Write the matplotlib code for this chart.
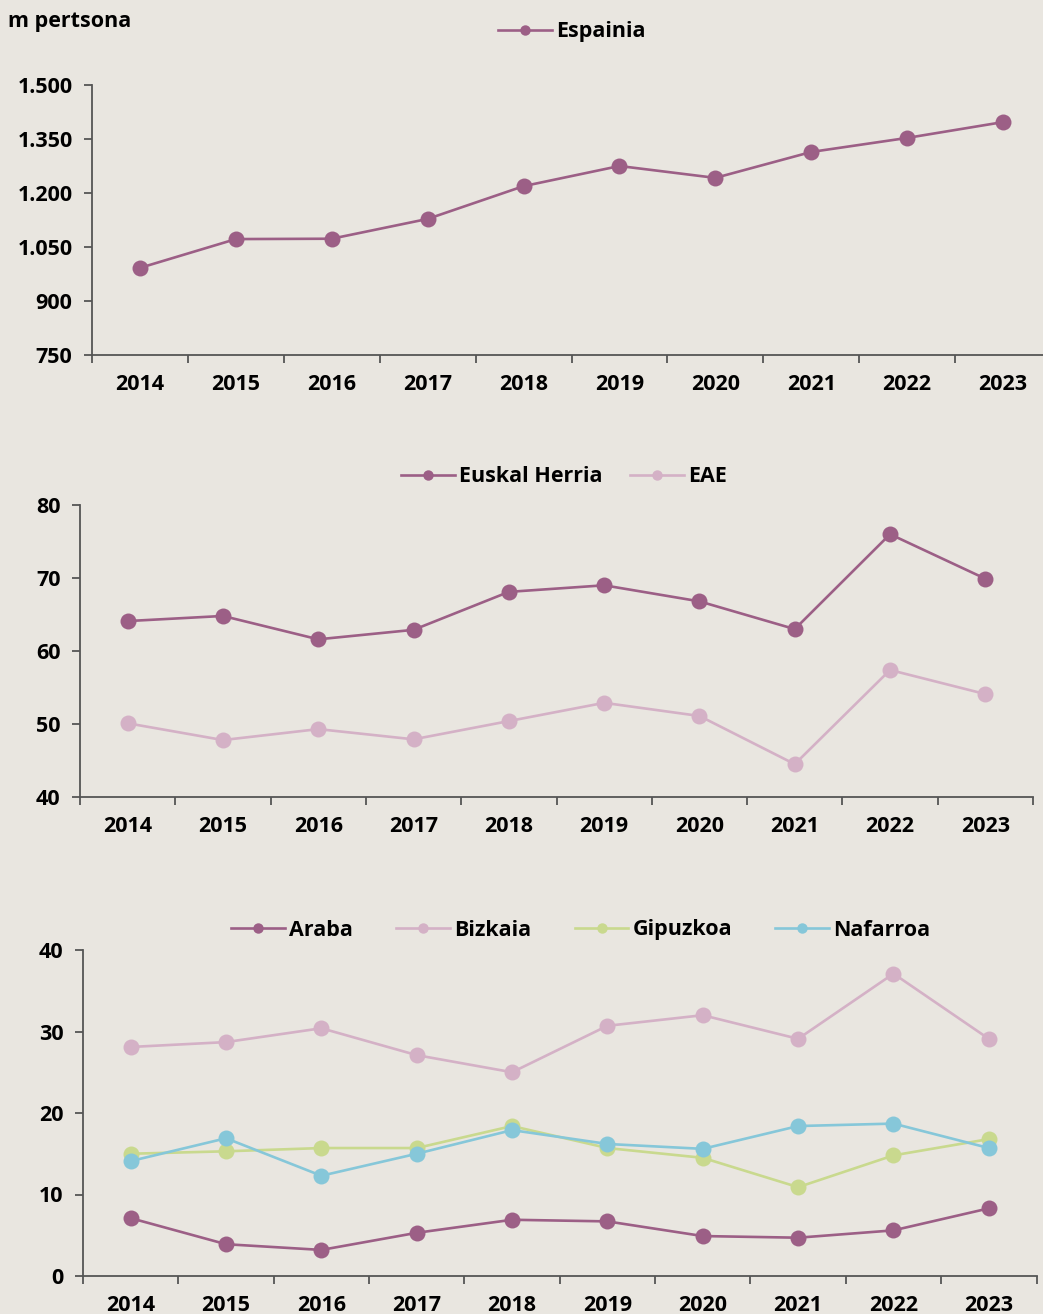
import numpy as np
import matplotlib.pyplot as plt
from matplotlib.lines import Line2D

# datuak
years = ['2014', '2015', '2016', '2017', '2018', '2019', '2020', '2021', '2022', '2023']
espainia = [992, 1072, 1073, 1128, 1219, 1275, 1242, 1314, 1353, 1397]
euskal_herria = [64.1, 64.8, 61.6, 62.9, 68.1, 69.0, 66.8, 63.0, 76.0, 69.9]
eae = [50.1, 47.8, 49.3, 47.9, 50.4, 52.9, 51.1, 44.5, 57.4, 54.1]
araba = [7.1, 3.9, 3.2, 5.3, 6.9, 6.7, 4.9, 4.7, 5.6, 8.3]
bizkaia = [28.1, 28.7, 30.4, 27.1, 25.0, 30.7, 32.0, 29.1, 37.1, 29.1]
gipuzkoa = [15.0, 15.3, 15.7, 15.7, 18.4, 15.7, 14.5, 10.9, 14.8, 16.8]
nafarroa = [14.1, 16.9, 12.3, 15.0, 17.9, 16.2, 15.6, 18.4, 18.7, 15.7]

c_dark = '#9C5F86'
c_pink = '#D4B1C6'
c_green = '#C9D98E'
c_blue = '#86C7D9'
bg = '#E9E6E0'
FS = 15.5

plt.rcParams['font.family'] = ['Open Sans', 'DejaVu Sans']
plt.rcParams['font.weight'] = 'bold'

fig = plt.figure(figsize=(10.43, 13.14), dpi=100, facecolor=bg)
W, H = 1043, 1314

x = np.arange(len(years))


def setup(ax, ylim, yticks, ylabels):
    ax.set_facecolor(bg)
    for s in ['top', 'right']:
        ax.spines[s].set_visible(False)
    for s in ['left', 'bottom']:
        ax.spines[s].set_color('#555555')
        ax.spines[s].set_linewidth(1.3)
    ax.set_xlim(-0.5, len(years) - 0.5)
    ax.set_ylim(*ylim)
    ax.set_xticks(x)
    ax.set_xticklabels(years, fontsize=FS, fontweight='bold')
    ax.set_xticks(np.arange(-0.5, len(years)), minor=True)
    ax.tick_params(axis='x', which='major', length=0, pad=13.5)
    ax.tick_params(axis='x', which='minor', length=6, width=1.3, color='#555555')
    ax.set_yticks(yticks)
    ax.set_yticklabels(ylabels, fontsize=FS, fontweight='bold')
    ax.tick_params(axis='y', length=6, width=1.3, color='#555555', pad=8)


def line(ax, vals, color, label):
    ax.plot(x, vals, color=color, lw=1.9, marker='o', markersize=11.5,
            markeredgewidth=0, label=label, clip_on=False)


def legend(ax, items, cx, cy, colsp):
    handles = [Line2D([], [], color=c, lw=1.9, marker='o', markersize=7.5,
                      markeredgewidth=0) for c, _ in items]
    ax.legend(handles, [l for _, l in items], loc='center',
              bbox_to_anchor=(cx / W, 1 - cy / H),
              bbox_transform=fig.transFigure, ncol=len(items), frameon=False,
              prop={'size': FS, 'weight': 'bold'}, handlelength=2.5,
              handletextpad=0.2, columnspacing=colsp)


# 1. Espainia
ax1 = fig.add_axes([92 / W, 1 - 355 / H, (1051 - 92) / W, 270 / H])
setup(ax1, (750, 1500), [750, 900, 1050, 1200, 1350, 1500],
      ['750', '900', '1.050', '1.200', '1.350', '1.500'])
line(ax1, espainia, c_dark, 'Espainia')
legend(ax1, [(c_dark, 'Espainia')], 572, 32, 2)
fig.text(8 / W, 1 - 21 / H, 'm pertsona', fontsize=FS, fontweight='bold', va='center')

# 2. Euskal Herria / EAE
ax2 = fig.add_axes([80 / W, 1 - 797 / H, (1033 - 80) / W, 292 / H])
setup(ax2, (40, 80), [40, 50, 60, 70, 80], ['40', '50', '60', '70', '80'])
line(ax2, eae, c_pink, 'EAE')
line(ax2, euskal_herria, c_dark, 'Euskal Herria')
legend(ax2, [(c_dark, 'Euskal Herria'), (c_pink, 'EAE')], 564, 477, 1.25)

# 3. Lurraldeak
ax3 = fig.add_axes([83 / W, 1 - 1276 / H, (1036.5 - 83) / W, 326 / H])
setup(ax3, (0, 40), [0, 10, 20, 30, 40], ['0', '10', '20', '30', '40'])
line(ax3, bizkaia, c_pink, 'Bizkaia')
line(ax3, gipuzkoa, c_green, 'Gipuzkoa')
line(ax3, nafarroa, c_blue, 'Nafarroa')
line(ax3, araba, c_dark, 'Araba')
legend(ax3, [(c_dark, 'Araba'), (c_pink, 'Bizkaia'), (c_green, 'Gipuzkoa'),
             (c_blue, 'Nafarroa')], 581, 930, 2.0)

fig.savefig('out.png', dpi=100, facecolor=bg)
